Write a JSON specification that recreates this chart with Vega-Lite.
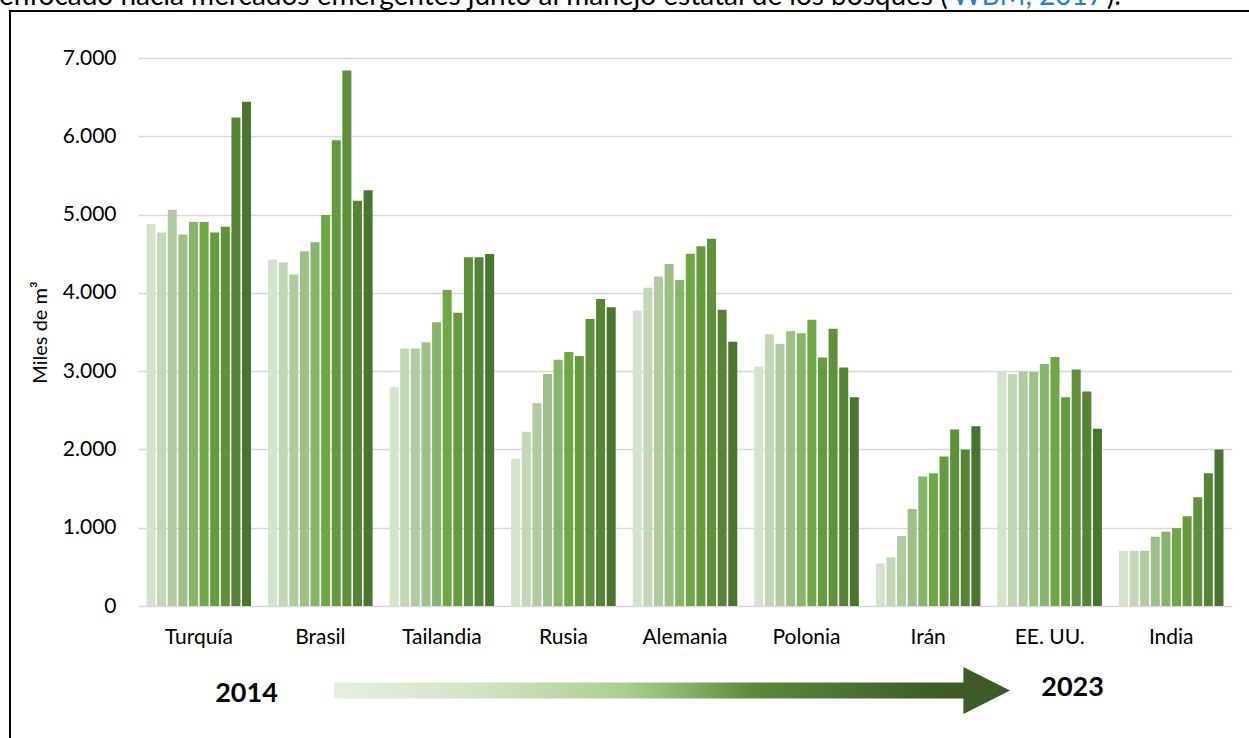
{
  "$schema": "https://vega.github.io/schema/vega-lite/v6.json",
  "width": 1240,
  "height": 728,
  "autosize": {"type": "none"},
  "padding": {"left": 10, "top": 11, "right": 0, "bottom": 0},
  "background": "#ffffff",
  "view": {"stroke": "#000000", "strokeWidth": 2},
  "config": {
    "font": "Lato",
    "axis": {"labelFont": "Lato", "titleFont": "Lato", "labelColor": "#000000", "titleColor": "#000000"}
  },
  "resolve": {"scale": {"x": "independent", "y": "independent", "color": "independent"}},
  "layer": [
    {
      "data": {
        "values": [
          {"pais": "Turquía", "anio": 2014, "valor": 4880},
          {"pais": "Turquía", "anio": 2015, "valor": 4770},
          {"pais": "Turquía", "anio": 2016, "valor": 5060},
          {"pais": "Turquía", "anio": 2017, "valor": 4745},
          {"pais": "Turquía", "anio": 2018, "valor": 4905},
          {"pais": "Turquía", "anio": 2019, "valor": 4905},
          {"pais": "Turquía", "anio": 2020, "valor": 4770},
          {"pais": "Turquía", "anio": 2021, "valor": 4845},
          {"pais": "Turquía", "anio": 2022, "valor": 6240},
          {"pais": "Turquía", "anio": 2023, "valor": 6440},
          {"pais": "Brasil", "anio": 2014, "valor": 4425},
          {"pais": "Brasil", "anio": 2015, "valor": 4390},
          {"pais": "Brasil", "anio": 2016, "valor": 4235},
          {"pais": "Brasil", "anio": 2017, "valor": 4530},
          {"pais": "Brasil", "anio": 2018, "valor": 4645},
          {"pais": "Brasil", "anio": 2019, "valor": 4995},
          {"pais": "Brasil", "anio": 2020, "valor": 5950},
          {"pais": "Brasil", "anio": 2021, "valor": 6840},
          {"pais": "Brasil", "anio": 2022, "valor": 5175},
          {"pais": "Brasil", "anio": 2023, "valor": 5310},
          {"pais": "Tailandia", "anio": 2014, "valor": 2795},
          {"pais": "Tailandia", "anio": 2015, "valor": 3290},
          {"pais": "Tailandia", "anio": 2016, "valor": 3290},
          {"pais": "Tailandia", "anio": 2017, "valor": 3370},
          {"pais": "Tailandia", "anio": 2018, "valor": 3625},
          {"pais": "Tailandia", "anio": 2019, "valor": 4035},
          {"pais": "Tailandia", "anio": 2020, "valor": 3745},
          {"pais": "Tailandia", "anio": 2021, "valor": 4455},
          {"pais": "Tailandia", "anio": 2022, "valor": 4455},
          {"pais": "Tailandia", "anio": 2023, "valor": 4495},
          {"pais": "Rusia", "anio": 2014, "valor": 1880},
          {"pais": "Rusia", "anio": 2015, "valor": 2225},
          {"pais": "Rusia", "anio": 2016, "valor": 2590},
          {"pais": "Rusia", "anio": 2017, "valor": 2965},
          {"pais": "Rusia", "anio": 2018, "valor": 3145},
          {"pais": "Rusia", "anio": 2019, "valor": 3245},
          {"pais": "Rusia", "anio": 2020, "valor": 3195},
          {"pais": "Rusia", "anio": 2021, "valor": 3665},
          {"pais": "Rusia", "anio": 2022, "valor": 3920},
          {"pais": "Rusia", "anio": 2023, "valor": 3815},
          {"pais": "Alemania", "anio": 2014, "valor": 3775},
          {"pais": "Alemania", "anio": 2015, "valor": 4065},
          {"pais": "Alemania", "anio": 2016, "valor": 4210},
          {"pais": "Alemania", "anio": 2017, "valor": 4370},
          {"pais": "Alemania", "anio": 2018, "valor": 4165},
          {"pais": "Alemania", "anio": 2019, "valor": 4500},
          {"pais": "Alemania", "anio": 2020, "valor": 4595},
          {"pais": "Alemania", "anio": 2021, "valor": 4690},
          {"pais": "Alemania", "anio": 2022, "valor": 3785},
          {"pais": "Alemania", "anio": 2023, "valor": 3375},
          {"pais": "Polonia", "anio": 2014, "valor": 3060},
          {"pais": "Polonia", "anio": 2015, "valor": 3470},
          {"pais": "Polonia", "anio": 2016, "valor": 3350},
          {"pais": "Polonia", "anio": 2017, "valor": 3510},
          {"pais": "Polonia", "anio": 2018, "valor": 3485},
          {"pais": "Polonia", "anio": 2019, "valor": 3655},
          {"pais": "Polonia", "anio": 2020, "valor": 3175},
          {"pais": "Polonia", "anio": 2021, "valor": 3540},
          {"pais": "Polonia", "anio": 2022, "valor": 3045},
          {"pais": "Polonia", "anio": 2023, "valor": 2665},
          {"pais": "Irán", "anio": 2014, "valor": 545},
          {"pais": "Irán", "anio": 2015, "valor": 620},
          {"pais": "Irán", "anio": 2016, "valor": 895},
          {"pais": "Irán", "anio": 2017, "valor": 1240},
          {"pais": "Irán", "anio": 2018, "valor": 1655},
          {"pais": "Irán", "anio": 2019, "valor": 1695},
          {"pais": "Irán", "anio": 2020, "valor": 1910},
          {"pais": "Irán", "anio": 2021, "valor": 2255},
          {"pais": "Irán", "anio": 2022, "valor": 2000},
          {"pais": "Irán", "anio": 2023, "valor": 2295},
          {"pais": "EE. UU.", "anio": 2014, "valor": 2995},
          {"pais": "EE. UU.", "anio": 2015, "valor": 2960},
          {"pais": "EE. UU.", "anio": 2016, "valor": 2995},
          {"pais": "EE. UU.", "anio": 2017, "valor": 2990},
          {"pais": "EE. UU.", "anio": 2018, "valor": 3090},
          {"pais": "EE. UU.", "anio": 2019, "valor": 3180},
          {"pais": "EE. UU.", "anio": 2020, "valor": 2665},
          {"pais": "EE. UU.", "anio": 2021, "valor": 3020},
          {"pais": "EE. UU.", "anio": 2022, "valor": 2740},
          {"pais": "EE. UU.", "anio": 2023, "valor": 2265},
          {"pais": "India", "anio": 2014, "valor": 705},
          {"pais": "India", "anio": 2015, "valor": 705},
          {"pais": "India", "anio": 2016, "valor": 705},
          {"pais": "India", "anio": 2017, "valor": 885},
          {"pais": "India", "anio": 2018, "valor": 950},
          {"pais": "India", "anio": 2019, "valor": 995},
          {"pais": "India", "anio": 2020, "valor": 1145},
          {"pais": "India", "anio": 2021, "valor": 1390},
          {"pais": "India", "anio": 2022, "valor": 1695},
          {"pais": "India", "anio": 2023, "valor": 2000}
        ]
      },
      "mark": {"type": "bar"},
      "encoding": {
        "x": {
          "field": "pais",
          "type": "nominal",
          "sort": ["Turquía", "Brasil", "Tailandia", "Rusia", "Alemania", "Polonia", "Irán", "EE. UU.", "India"],
          "scale": {"range": [128, 1222], "paddingInner": 0.14, "paddingOuter": 0.07},
          "axis": {
            "title": null,
            "orient": "bottom",
            "offset": -133,
            "domain": false,
            "ticks": false,
            "grid": false,
            "labelAngle": 0,
            "labelPadding": 20,
            "labelFontSize": 21
          }
        },
        "xOffset": {
          "field": "anio",
          "type": "ordinal",
          "scale": {"paddingInner": 0.15, "paddingOuter": 0}
        },
        "y": {
          "field": "valor",
          "type": "quantitative",
          "scale": {"domain": [0, 7000], "range": [595, 47], "nice": false, "zero": true},
          "axis": {
            "title": "Miles de m³",
            "titleFontSize": 20,
            "titleFontWeight": "normal",
            "titlePadding": 12,
            "offset": -128,
            "values": [0, 1000, 2000, 3000, 4000, 5000, 6000, 7000],
            "labelExpr": "replace(format(datum.value, ','), ',', '.')",
            "labelFontSize": 21,
            "labelPadding": 22,
            "domain": false,
            "ticks": false,
            "grid": true,
            "gridColor": "#d9d9d9",
            "gridWidth": 1.6
          }
        },
        "color": {
          "field": "anio",
          "type": "ordinal",
          "scale": {"range": ["#d4e3cc", "#c2d7b5", "#b0cba0", "#9dc088", "#85b46a", "#6ea845", "#669a3f", "#5e913a", "#568436", "#4a752f"]},
          "legend": null
        }
      }
    },
    {
      "encoding": {
        "x": {"field": "ax", "type": "quantitative", "scale": {"domain": [0, 1], "nice": false, "zero": false}, "axis": null},
        "y": {"field": "ay", "type": "quantitative", "scale": {"domain": [0, 1], "nice": false, "zero": false, "reverse": true}, "axis": null}
      },
      "layer": [
        {
          "data": {"values": [{"ax": 0.5339, "ay": 0.9334}]},
          "mark": {
            "type": "point",
            "shape": "M -1 -0.0237 L 0.862 -0.0237 L 0.862 -0.0695 L 1 0 L 0.862 0.0695 L 0.862 0.0237 L -1 0.0237 Z",
            "size": 456976,
            "filled": true,
            "opacity": 1,
            "strokeWidth": 0,
            "fill": {"gradient": "linear", "x1": 0, "y1": 0, "x2": 1, "y2": 0, "stops": [
              {"offset": 0, "color": "#e6f0de"},
              {"offset": 0.2, "color": "#d3e5c6"},
              {"offset": 0.43, "color": "#a9d08e"},
              {"offset": 0.52, "color": "#86b367"},
              {"offset": 0.62, "color": "#5a8a3c"},
              {"offset": 0.76, "color": "#4a7231"},
              {"offset": 0.88, "color": "#3e5e28"},
              {"offset": 1, "color": "#3b5a25"}
            ]}
          }
        },
        {
          "data": {"values": [
            {"t": "2014", "ax": 0.1907, "ay": 0.9382},
            {"t": "2023", "ax": 0.8569, "ay": 0.9300}
          ]},
          "mark": {"type": "text", "font": "Lato", "fontSize": 27, "fontWeight": "bold", "fill": "#000000", "align": "center", "baseline": "middle"},
          "encoding": {"text": {"field": "t"}}
        },
        {
          "data": {"values": [
            {"t": "enfocado hacia mercados emergentes junto al manejo estatal de los bosques (", "ax": -0.0089, "ay": -0.0076},
            {"t": ").", "ax": 0.8845, "ay": -0.0076}
          ]},
          "mark": {"type": "text", "font": "Lato", "fontSize": 28, "fill": "#000000", "align": "left", "baseline": "alphabetic"},
          "encoding": {"text": {"field": "t"}}
        },
        {
          "data": {"values": [
            {"t": "WBM, 2017", "ax": 0.7600, "ay": -0.0076}
          ]},
          "mark": {"type": "text", "font": "Lato", "fontSize": 28, "fill": "#1f7fd6", "align": "left", "baseline": "alphabetic"},
          "encoding": {"text": {"field": "t"}}
        }
      ]
    }
  ]
}
